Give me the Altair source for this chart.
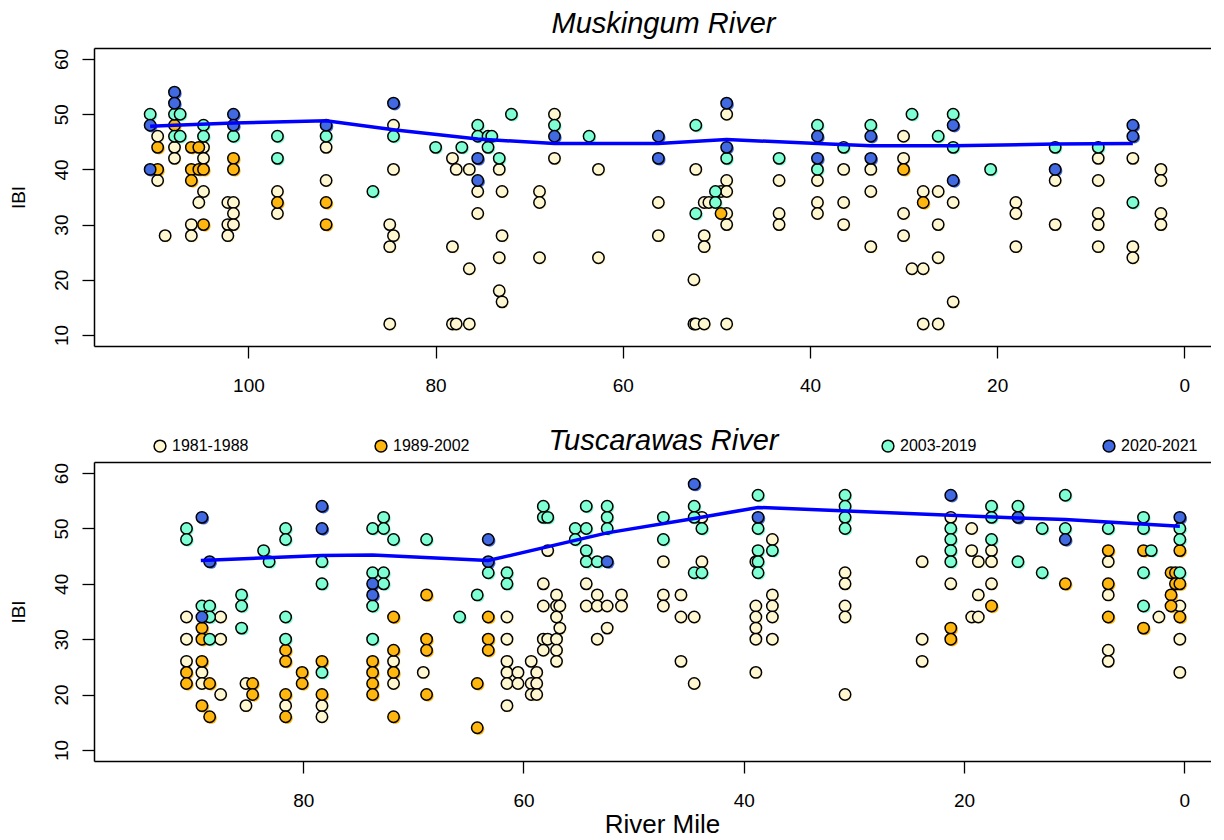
import altair as alt
import pandas as pd

FONT = "Liberation Sans"

PERIODS = ["1981-1988", "1989-2002", "2003-2019", "2020-2021"]
PERIOD_COLORS = ["#FFF7D0", "#FFB70F", "#7FFFD4", "#4169E1"]

# (river mile, [(period number 1..4, IBI), ...])
musk_sites = [
    (110.5, [(3, 50), (4, 48), (4, 40)]),
    (109.7, [(1, 46), (2, 44), (2, 40), (1, 38)]),
    (108.9, [(1, 28)]),
    (107.9, [(4, 54), (4, 52), (3, 50), (2, 48), (3, 46), (1, 44), (1, 42)]),
    (107.3, [(3, 50), (3, 46)]),
    (106.1, [(2, 44), (2, 40), (2, 38), (1, 30), (1, 28)]),
    (105.3, [(2, 44), (2, 40), (1, 34)]),
    (104.8, [(3, 48), (3, 46), (1, 44), (1, 42), (2, 40), (1, 36), (2, 30)]),
    (102.2, [(1, 34), (1, 30), (1, 28)]),
    (101.6, [(4, 50), (4, 48), (3, 46), (2, 42), (2, 40), (1, 34), (1, 32), (1, 30)]),
    (96.9, [(3, 46), (3, 42), (1, 36), (2, 34), (1, 32)]),
    (91.7, [(4, 48), (3, 46), (1, 44), (1, 38), (2, 34), (2, 30)]),
    (86.7, [(3, 36)]),
    (84.9, [(1, 30), (1, 26), (1, 12)]),
    (84.5, [(4, 52), (1, 48), (3, 46), (1, 40), (1, 28)]),
    (80.0, [(3, 44)]),
    (78.2, [(1, 42), (1, 26), (1, 12)]),
    (77.8, [(1, 40), (1, 12)]),
    (77.2, [(3, 44)]),
    (76.4, [(1, 40), (1, 22), (1, 12)]),
    (75.5, [(3, 48), (3, 46), (4, 42), (4, 38), (1, 36), (1, 32)]),
    (74.4, [(3, 46), (3, 44)]),
    (74.0, [(3, 46)]),
    (73.2, [(3, 42), (1, 40), (1, 24), (1, 18)]),
    (72.9, [(1, 36), (1, 28), (1, 16)]),
    (71.9, [(3, 50)]),
    (68.9, [(1, 36), (1, 34), (1, 24)]),
    (67.3, [(1, 50), (3, 48), (4, 46), (1, 42)]),
    (63.6, [(3, 46)]),
    (62.6, [(1, 40), (1, 24)]),
    (56.2, [(4, 46), (4, 42), (1, 34), (1, 28)]),
    (52.4, [(1, 20), (1, 12)]),
    (52.2, [(3, 48), (1, 40), (3, 32), (1, 12)]),
    (51.3, [(1, 34), (1, 28), (1, 26), (1, 12)]),
    (50.8, [(1, 34)]),
    (50.1, [(3, 36), (3, 34)]),
    (49.5, [(1, 36), (2, 32)]),
    (48.9, [(4, 52), (1, 50), (4, 44), (3, 42), (1, 38), (1, 36), (1, 32), (1, 30), (1, 12)]),
    (43.3, [(3, 42), (1, 38), (1, 32), (1, 30)]),
    (39.2, [(3, 48), (4, 46), (4, 42), (3, 40), (1, 38), (1, 34), (1, 32)]),
    (36.4, [(3, 44), (1, 40), (1, 34), (1, 30)]),
    (33.5, [(3, 48), (4, 46), (4, 42), (1, 40), (1, 36), (1, 26)]),
    (30.0, [(1, 46), (1, 42), (2, 40), (1, 32), (1, 28)]),
    (29.1, [(3, 50), (1, 22)]),
    (27.9, [(1, 36), (2, 34), (1, 22), (1, 12)]),
    (26.3, [(3, 46), (1, 36), (1, 30), (1, 24), (1, 12)]),
    (24.7, [(3, 50), (4, 48), (3, 44), (4, 38), (1, 34), (1, 16)]),
    (20.7, [(3, 40)]),
    (18.0, [(1, 34), (1, 32), (1, 26)]),
    (13.8, [(3, 44), (4, 40), (1, 38), (1, 30)]),
    (9.2, [(3, 44), (1, 42), (1, 38), (1, 32), (1, 30), (1, 26)]),
    (5.5, [(4, 48), (4, 46), (1, 42), (3, 34), (1, 26), (1, 24)]),
    (2.5, [(1, 40), (1, 38), (1, 32), (1, 30)]),
]

musk_trend_mile = [110.5, 107.9, 101.6, 91.7, 84.5, 75.5, 67.3, 56.2, 48.9, 39.2, 33.5, 24.7, 13.8, 5.5]
musk_trend_ibi = [47.8, 48.0, 48.4, 48.8, 47.2, 45.5, 44.7, 44.7, 45.4, 44.7, 44.3, 44.3, 44.6, 44.7]

tusc_sites = [
    (90.6, [(3, 50), (3, 48), (1, 34), (1, 30), (1, 26), (2, 24), (2, 22)]),
    (89.2, [(4, 52), (3, 36), (4, 34), (2, 32), (2, 30), (2, 26), (1, 24), (1, 22), (2, 18)]),
    (88.5, [(4, 44), (3, 36), (3, 34), (3, 30), (2, 22), (2, 16)]),
    (87.5, [(1, 34), (1, 30), (1, 20)]),
    (85.6, [(3, 38), (3, 36), (3, 32)]),
    (85.2, [(1, 22), (1, 18)]),
    (84.6, [(2, 22), (2, 20)]),
    (83.6, [(3, 46)]),
    (83.1, [(3, 44)]),
    (81.6, [(3, 50), (3, 48), (3, 34), (3, 30), (2, 28), (2, 26), (2, 20), (1, 18), (2, 16)]),
    (80.1, [(2, 24), (2, 22)]),
    (78.3, [(4, 54), (4, 50), (3, 44), (3, 40), (2, 26), (3, 24), (2, 20), (1, 18), (1, 16)]),
    (73.7, [(3, 50), (3, 42), (4, 40), (4, 38), (3, 36), (3, 30), (2, 26), (2, 24), (2, 22), (2, 20)]),
    (72.7, [(3, 52), (3, 50), (3, 42), (3, 40)]),
    (71.8, [(3, 48), (2, 34), (2, 28), (1, 26), (2, 24), (1, 22), (2, 16)]),
    (69.1, [(1, 24)]),
    (68.8, [(3, 48), (2, 38), (2, 30), (2, 28), (2, 20)]),
    (65.8, [(3, 34)]),
    (64.2, [(3, 38), (2, 22), (2, 14)]),
    (63.2, [(4, 48), (4, 44), (3, 42), (2, 34), (2, 30), (2, 28)]),
    (61.5, [(3, 42), (3, 40), (1, 34), (1, 30), (1, 26), (1, 24), (1, 22), (1, 18)]),
    (60.5, [(1, 24), (1, 22)]),
    (59.3, [(1, 26), (1, 22), (1, 20)]),
    (58.8, [(1, 24), (1, 22), (1, 20)]),
    (58.2, [(3, 54), (3, 52), (1, 40), (1, 36), (1, 30), (1, 28)]),
    (57.8, [(3, 52), (1, 46), (1, 30)]),
    (57.0, [(1, 38), (1, 36), (1, 34), (1, 30), (1, 28), (1, 26)]),
    (56.7, [(1, 36), (1, 32)]),
    (55.3, [(3, 50), (3, 48)]),
    (54.3, [(3, 54), (3, 50), (3, 46), (3, 44), (1, 40), (1, 36)]),
    (53.3, [(3, 44), (1, 38), (1, 36), (1, 30)]),
    (52.4, [(3, 54), (3, 52), (3, 50), (4, 44), (1, 36), (1, 32)]),
    (51.1, [(1, 38), (1, 36)]),
    (47.3, [(3, 52), (3, 48), (1, 44), (1, 38), (1, 36)]),
    (45.7, [(1, 38), (1, 34), (1, 26)]),
    (44.5, [(4, 58), (3, 54), (3, 52), (3, 42), (1, 34), (1, 22)]),
    (43.8, [(1, 52), (3, 50), (1, 44), (3, 42)]),
    (38.9, [(1, 44), (1, 36), (1, 34), (1, 32), (1, 30), (1, 24)]),
    (38.7, [(3, 56), (4, 52), (3, 50), (3, 46), (3, 44), (3, 42)]),
    (37.4, [(1, 48), (3, 46), (1, 38), (1, 36), (1, 34), (1, 30)]),
    (30.8, [(3, 56), (3, 54), (3, 52), (3, 50), (1, 42), (1, 40), (1, 36), (1, 34), (1, 20)]),
    (23.8, [(1, 44), (1, 30), (1, 26)]),
    (21.2, [(4, 56), (1, 52), (3, 50), (3, 48), (3, 46), (3, 44), (1, 40), (2, 32), (2, 30)]),
    (19.3, [(1, 50), (1, 46), (1, 34)]),
    (18.7, [(1, 44), (1, 38), (1, 34)]),
    (17.5, [(3, 54), (3, 52), (3, 48), (1, 46), (1, 44), (1, 40), (2, 36)]),
    (15.1, [(3, 54), (4, 52), (3, 44)]),
    (12.9, [(3, 50), (3, 42)]),
    (10.8, [(3, 56), (3, 50), (4, 48), (2, 40)]),
    (6.9, [(3, 50), (2, 46), (1, 44), (2, 40), (1, 38), (2, 34), (1, 28), (1, 26)]),
    (3.7, [(3, 52), (3, 50), (2, 46), (3, 42), (3, 36), (2, 32)]),
    (3.0, [(3, 46)]),
    (2.3, [(1, 34)]),
    (1.2, [(2, 42), (2, 38), (2, 36)]),
    (0.8, [(2, 42), (2, 40)]),
    (0.4, [(4, 52), (3, 50), (3, 48), (2, 46), (3, 42), (2, 40), (1, 36), (2, 34), (1, 30), (1, 24)]),
]

tusc_trend_mile = [89.3, 78.3, 73.7, 63.2, 52.4, 44.5, 38.7, 21.2, 15.1, 10.8, 0.4]
tusc_trend_ibi = [44.2, 45.1, 45.2, 44.2, 49.2, 51.8, 53.8, 52.4, 51.9, 51.6, 50.4]

Y_TICKS = [10, 20, 30, 40, 50, 60]
MUSK_X_TICKS = [100, 80, 60, 40, 20, 0]
TUSC_X_TICKS = [80, 60, 40, 20, 0]

PLOT_W = 1117


def points_frame(sites):
    rows = []
    for mile, pts in sites:
        for p, v in pts:
            rows.append({"mile": mile, "ibi": v, "period": PERIODS[p - 1], "order": p})
    return pd.DataFrame(rows).sort_values("order", kind="stable").reset_index(drop=True)


def legend_for(values_x):
    return alt.Legend(
        title=None, orient="none", legendX=values_x, legendY=-24,
        direction="horizontal", symbolType="circle", symbolSize=140,
        symbolStrokeColor="black", symbolStrokeWidth=1.5, symbolOpacity=1,
        labelFont=FONT, labelFontSize=16, labelColor="black", labelOffset=4,
        columnPadding=123, padding=0,
    )


def panel(sites, t_mile, t_ibi, title, x_domain, x_ticks, title_offset, x_title, with_legend, height):
    df = points_frame(sites)
    trend = pd.DataFrame({"mile": t_mile, "ibi": t_ibi})
    xscale = alt.Scale(domain=x_domain, nice=False, zero=False)
    if x_title is None:
        xaxis = alt.Axis(values=x_ticks, format="d", title=None, labelPadding=18, domain=True)
    else:
        xaxis = alt.Axis(values=x_ticks, format="d", title=x_title, labelPadding=18, domain=True,
                         titleFontSize=26, titleFont=FONT, titleFontWeight="normal",
                         titleBaseline="alphabetic", titleAlign="center", titleX=568, titleY=71,
                         titleColor="black")
    top_axis = alt.Axis(orient="top", labels=False, ticks=False, domain=True, title=None)
    x_main = alt.X("mile:Q", scale=xscale, axis=xaxis)
    x_plain = alt.X("mile:Q", scale=xscale, axis=None)
    x_top = alt.X("mile:Q", scale=xscale, axis=top_axis)
    y = alt.Y("ibi:Q", scale=alt.Scale(domain=[8, 62], nice=False, zero=False),
              axis=alt.Axis(values=Y_TICKS, title="IBI", labelAngle=270, labelAlign="center",
                            labelBaseline="bottom", labelPadding=11, titlePadding=24, domain=True,
                            titleFontSize=19, titleFont=FONT, titleFontWeight="normal",
                            titleColor="black"))
    base = alt.Chart(df)
    shadow = base.mark_circle(size=130, opacity=1, xOffset=1.5, yOffset=1.5).encode(
        x=x_main, y=y,
        fill=alt.Fill("period:N", scale=alt.Scale(domain=PERIODS, range=PERIOD_COLORS), legend=None),
    )
    early = base.transform_filter(
        alt.FieldOneOfPredicate(field="period", oneOf=PERIODS[:2])
    ).mark_circle(size=130, opacity=1, stroke="black", strokeWidth=1.5).encode(
        x=x_plain, y=y,
        fill=alt.Fill("period:N", scale=alt.Scale(domain=PERIODS[:2], range=PERIOD_COLORS[:2]),
                      legend=legend_for(58) if with_legend else None),
    )
    late = base.transform_filter(
        alt.FieldOneOfPredicate(field="period", oneOf=PERIODS[2:])
    ).mark_circle(size=130, opacity=1, stroke="black", strokeWidth=1.5).encode(
        x=x_plain, y=y,
        fill=alt.Fill("period:N", scale=alt.Scale(domain=PERIODS[2:], range=PERIOD_COLORS[2:]),
                      legend=legend_for(786) if with_legend else None),
    )
    line = alt.Chart(trend).mark_line(color="#0000FF", strokeWidth=3.5).encode(x=x_top, y=y)
    return alt.layer(shadow, early, late, line).resolve_scale(
        fill="independent"
    ).resolve_axis(x="independent").properties(
        width=PLOT_W, height=height,
        title=alt.TitleParams(title, font=FONT, fontSize=29, fontStyle="italic",
                              fontWeight="normal", anchor="middle", offset=title_offset,
                              dx=11, color="black"),
    )


top = panel(musk_sites, musk_trend_mile, musk_trend_ibi, "Muskingum River",
            [116.5, -2.85], MUSK_X_TICKS, 9, None, False, 298)
bottom = panel(tusc_sites, tusc_trend_mile, tusc_trend_ibi, "Tuscarawas River",
               [99.0, -2.43], TUSC_X_TICKS, -18, "River Mile", True, 299)

chart = alt.vconcat(top, bottom, spacing=32).resolve_scale(
    x="independent", y="independent", fill="independent"
).properties(
    padding={"left": 0, "top": 2, "right": 0, "bottom": 0},
    background="white",
).configure_view(
    strokeWidth=0
).configure_axis(
    grid=False, domain=False, domainColor="black", domainWidth=1.5,
    tickSize=12, tickWidth=1.3, tickColor="black",
    labelFont=FONT, labelFontSize=19, labelColor="black",
)

chart.save("out.html", embed_options={"renderer": "svg", "actions": False})
